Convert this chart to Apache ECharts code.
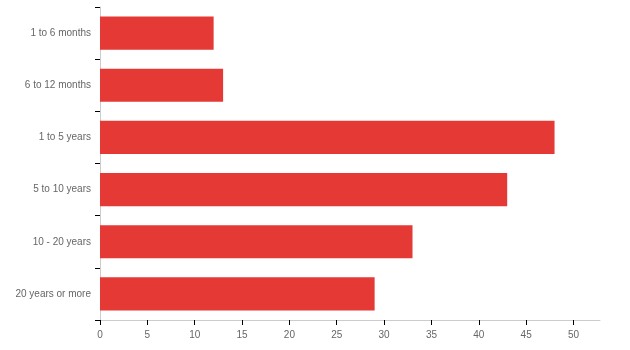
<!DOCTYPE html>
<html>
<head>
<meta charset="utf-8">
<script src="https://cdn.jsdelivr.net/npm/echarts@6/dist/echarts.min.js"></script>
<style>html,body{margin:0;padding:0;background:#fff}#c{width:630px;height:350px}</style>
</head>
<body>
<div id="c"></div>
<script>
const categories = ['1 to 6 months', '6 to 12 months', '1 to 5 years', '5 to 10 years', '10 - 20 years', '20 years or more'];
const values = [12, 13, 48, 43, 33, 29];
const xTicks = [0, 5, 10, 15, 20, 25, 30, 35, 40, 45, 50];

const chart = echarts.init(document.getElementById('c'));
chart.setOption({
  animation: false,
  grid: { left: 100, right: 30, top: 7, bottom: 30, containLabel: false },
  xAxis: {
    type: 'value', min: 0, max: 52.8,
    axisLine: { show: true, lineStyle: { color: '#cccccc', width: 1 } },
    axisTick: { show: true, length: 5, lineStyle: { color: '#000' }, customValues: xTicks },
    axisLabel: { color: '#666', fontSize: 10, fontFamily: 'Liberation Sans, Arial, sans-serif', margin: 10, customValues: xTicks },
    splitLine: { show: false }
  },
  yAxis: {
    type: 'category', data: categories, inverse: true,
    axisLine: { show: true, lineStyle: { color: '#cccccc', width: 1 } },
    axisTick: { show: true, length: 5, lineStyle: { color: '#000' } },
    axisLabel: { color: '#666', fontSize: 10, fontFamily: 'Liberation Sans, Arial, sans-serif', margin: 9 }
  },
  series: [{
    type: 'bar', data: values, barCategoryGap: '36.5%',
    itemStyle: { color: '#e53935' }
  }]
});
</script>
</body>
</html>
